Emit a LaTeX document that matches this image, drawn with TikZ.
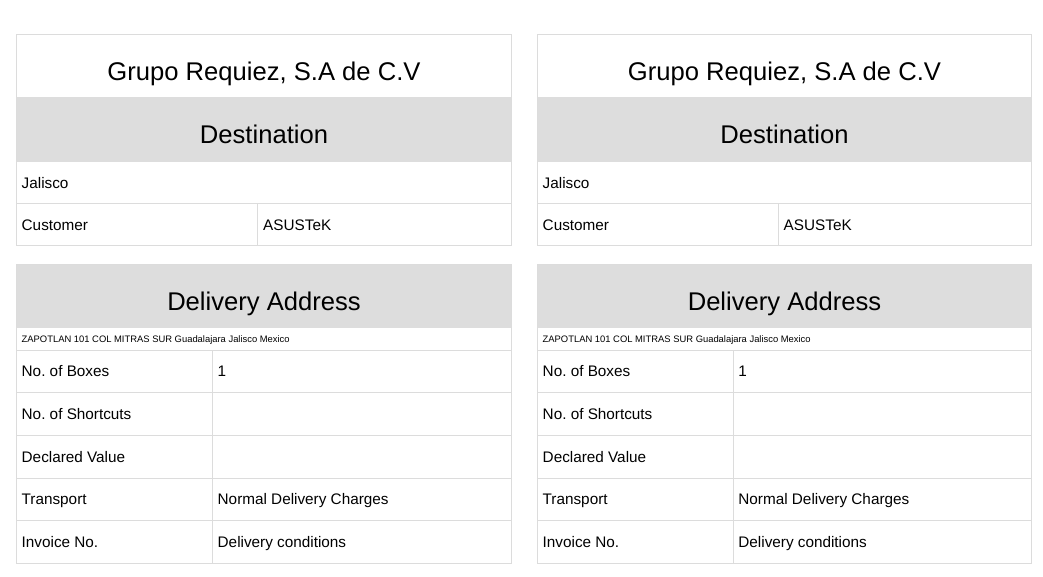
\documentclass[tikz,border=0pt]{standalone}
\usepackage{fontspec}
\setmainfont{Liberation Sans}
\usepackage{tikz}
\usetikzlibrary{calc}
\frenchspacing
\definecolor{bandgray}{HTML}{DDDDDD}
\definecolor{linegray}{HTML}{DCDCDC}
\tikzset{gridline/.style={draw=linegray,line width=1pt},
  bigtxt/.style={inner sep=0pt,anchor=base,font=\fontsize{25.6}{30}\selectfont},
  celltxt/.style={inner sep=0pt,anchor=base west,font=\fontsize{15.3}{18}\selectfont},
  tinytxt/.style={inner sep=0pt,anchor=base west,font=\fontsize{9.4}{11}\selectfont}}

\begin{document}
\begin{tikzpicture} [x=1pt,y=-1pt]
\useasboundingbox (0,0) rectangle (1043,577);
% left label
\fill [bandgray] (16,97) rectangle (511,162);
\draw [gridline] (16,35) rectangle (511,246);
\draw [gridline] (16,204)--(511,204);
\draw [gridline] (257.7,204)--(257.7,246);
\fill [bandgray] (16,264) rectangle (511,328);
\draw [gridline] (16,264) rectangle (511,563.3);
\draw [gridline] (16,350.7)--(511,350.7);
\draw [gridline] (16,392.3)--(511,392.3);
\draw [gridline] (16,435.3)--(511,435.3);
\draw [gridline] (16,478.3)--(511,478.3);
\draw [gridline] (16,520.7)--(511,520.7);
\draw [gridline] (212.3,350.7)--(212.3,563.3);
\node [bigtxt] (title-l) at (264,81) {Grupo Requiez, S.A de C.V};
\node [bigtxt] (dest-l) at (264,143.3) {Destination};
\node [celltxt] (state-l) at (21.5,188.5) {Jalisco};
\node [celltxt] (cust-l) at (21.5,230.5) {Customer};
\node [celltxt] (custval-l) at (263,230.5) {ASUSTeK};
\node [bigtxt] (deliv-l) at (264,310) {Delivery Address};
\node [tinytxt] (addr-l) at (21.5,342.6) {ZAPOTLAN 101 COL MITRAS SUR Guadalajara Jalisco Mexico};
\node [celltxt] (boxes-l) at (21.5,376.9) {No. of Boxes};
\node [celltxt] (boxesval-l) at (217.5,376.9) {1};
\node [celltxt] (shortcuts-l) at (21.5,419.2) {No. of Shortcuts};
\node [celltxt] (declared-l) at (21.5,462.2) {Declared Value};
\node [celltxt] (transport-l) at (21.5,504.9) {Transport};
\node [celltxt] (transportval-l) at (217.5,504.9) {Normal Delivery Charges};
\node [celltxt] (invoice-l) at (21.5,547.4) {Invoice No.};
\node [celltxt] (invoiceval-l) at (217.5,547.4) {Delivery conditions};
% right label
\fill [bandgray] (537,97) rectangle (1031.5,162);
\draw [gridline] (537,35) rectangle (1031.5,246);
\draw [gridline] (537,204)--(1031.5,204);
\draw [gridline] (778.2,204)--(778.2,246);
\fill [bandgray] (537,264) rectangle (1031.5,328);
\draw [gridline] (537,264) rectangle (1031.5,563.3);
\draw [gridline] (537,350.7)--(1031.5,350.7);
\draw [gridline] (537,392.3)--(1031.5,392.3);
\draw [gridline] (537,435.3)--(1031.5,435.3);
\draw [gridline] (537,478.3)--(1031.5,478.3);
\draw [gridline] (537,520.7)--(1031.5,520.7);
\draw [gridline] (733,350.7)--(733,563.3);
\node [bigtxt] (title-r) at (784.5,81) {Grupo Requiez, S.A de C.V};
\node [bigtxt] (dest-r) at (784.5,143.3) {Destination};
\node [celltxt] (state-r) at (542.5,188.5) {Jalisco};
\node [celltxt] (cust-r) at (542.5,230.5) {Customer};
\node [celltxt] (custval-r) at (783.5,230.5) {ASUSTeK};
\node [bigtxt] (deliv-r) at (784.5,310) {Delivery Address};
\node [tinytxt] (addr-r) at (542.5,342.6) {ZAPOTLAN 101 COL MITRAS SUR Guadalajara Jalisco Mexico};
\node [celltxt] (boxes-r) at (542.5,376.9) {No. of Boxes};
\node [celltxt] (boxesval-r) at (738.2,376.9) {1};
\node [celltxt] (shortcuts-r) at (542.5,419.2) {No. of Shortcuts};
\node [celltxt] (declared-r) at (542.5,462.2) {Declared Value};
\node [celltxt] (transport-r) at (542.5,504.9) {Transport};
\node [celltxt] (transportval-r) at (738.2,504.9) {Normal Delivery Charges};
\node [celltxt] (invoice-r) at (542.5,547.4) {Invoice No.};
\node [celltxt] (invoiceval-r) at (738.2,547.4) {Delivery conditions};
\end{tikzpicture}
\end{document}
